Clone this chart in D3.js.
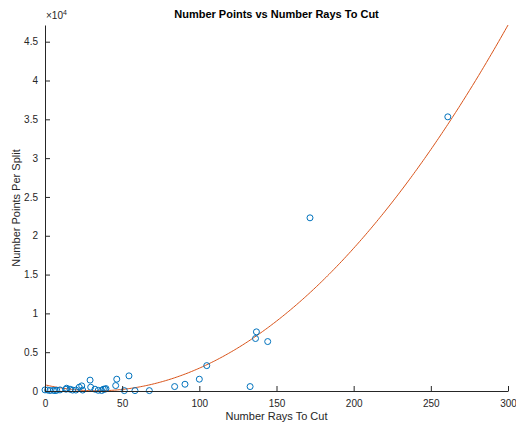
<!DOCTYPE html>
<html>
<head>
<meta charset="utf-8">
<script src="https://cdn.jsdelivr.net/npm/d3@7"></script>
<style>
  body { margin: 0; background: #fff; }
  text { font-family: "Liberation Sans", Arial, sans-serif; fill: #262626; }
</style>
</head>
<body>
<svg id="chart" width="516" height="424"></svg>
<script>
// data
var raysToCut = [0, 1.7, 3.2, 5.4, 6.5, 7.6, 9.7, 13.6, 14, 16.2, 17.9, 20, 22.2, 23.8, 24.4,
    29.2, 29.6, 32.4, 34.5, 36.7, 37.8, 38.9, 39.5, 45.8, 46.5, 51.4, 54.4, 58.3, 67.6,
    84, 90.7, 100, 104.8, 132.9, 136.4, 137, 144.3, 171.7, 261];
var pointsPerSplit = [140, 120, 60, 80, 60, 90, 140, 230, 360, 230, 120, 120, 490, 660, 120,
    1400, 490, 230, 90, 60, 230, 230, 310, 700, 1520, 50, 1950, 50, 50,
    570, 870, 1520, 3270, 570, 6760, 7620, 6370, 22310, 35320];

// quadratic fit coefficients (a x^2 + b x + c)
var fitCoef = [0.665, -45, 790];

var xTicks = [0, 50, 100, 150, 200, 250, 300];
var yTicks = [0, 0.5, 1, 1.5, 2, 2.5, 3, 3.5, 4, 4.5];

var width = 516, height = 424;
var margin = {top: 25, right: 8, bottom: 33, left: 45};

var svg = d3.select("#chart");

var x = d3.scaleLinear()
    .domain([0, 300])
    .range([margin.left, width - margin.right]);

var y = d3.scaleLinear()
    .domain([0, 47150])
    .range([height - margin.bottom, margin.top]);

// fit curve
var fitX = d3.range(0, 300.5, 1);
var line = d3.line()
    .x(function (d) { return x(d); })
    .y(function (d) { return y(fitCoef[0] * d * d + fitCoef[1] * d + fitCoef[2]); });

svg.append("path")
    .datum(fitX)
    .attr("fill", "none")
    .attr("stroke", "#D95319")
    .attr("stroke-width", 1)
    .attr("d", line);

// points
svg.selectAll("circle.pt")
    .data(raysToCut)
    .enter()
    .append("circle")
    .attr("class", "pt")
    .attr("cx", function (d) { return x(d); })
    .attr("cy", function (d, i) { return y(pointsPerSplit[i]); })
    .attr("r", 3)
    .attr("fill", "none")
    .attr("stroke", "#0072BD")
    .attr("stroke-width", 1);

// x axis
var xAxis = svg.append("g")
    .attr("transform", "translate(0," + (height - margin.bottom) + ")")
    .call(d3.axisBottom(x).tickValues(xTicks).tickSizeInner(-5).tickSizeOuter(0).tickPadding(9));

// y axis
var yAxis = svg.append("g")
    .attr("transform", "translate(" + margin.left + ",0)")
    .call(d3.axisLeft(y).tickValues(yTicks.map(function (d) { return d * 1e4; }))
        .tickFormat(function (d) { return d3.format("")(d / 1e4); })
        .tickSizeInner(-5).tickSizeOuter(0).tickPadding(7));

svg.selectAll(".domain").attr("stroke", "#262626");
svg.selectAll(".tick line").attr("stroke", "#262626");
svg.selectAll(".tick text")
    .style("font-size", "10px")
    .style("font-family", "Liberation Sans, Arial, sans-serif")
    .attr("fill", "#262626");

// exponent label
var expo = svg.append("text")
    .attr("x", margin.left + 1)
    .attr("y", 19)
    .style("font-size", "10px");
expo.append("tspan").text("\u00d710");
expo.append("tspan").attr("dy", -4).style("font-size", "7px").text("4");

// title
svg.append("text")
    .attr("text-anchor", "middle")
    .attr("x", (margin.left + width - margin.right) / 2)
    .attr("y", 18)
    .style("font-size", "11px")
    .style("font-weight", "bold")
    .style("fill", "#000")
    .text("Number Points vs Number Rays To Cut");

// axis labels
svg.append("text")
    .attr("text-anchor", "middle")
    .attr("x", (margin.left + width - margin.right) / 2)
    .attr("y", 420)
    .style("font-size", "11px")
    .text("Number Rays To Cut");

svg.append("text")
    .attr("text-anchor", "middle")
    .attr("transform", "translate(20," + (margin.top + height - margin.bottom) / 2 + ") rotate(-90)")
    .style("font-size", "11px")
    .text("Number Points Per Split");
</script>
</body>
</html>
